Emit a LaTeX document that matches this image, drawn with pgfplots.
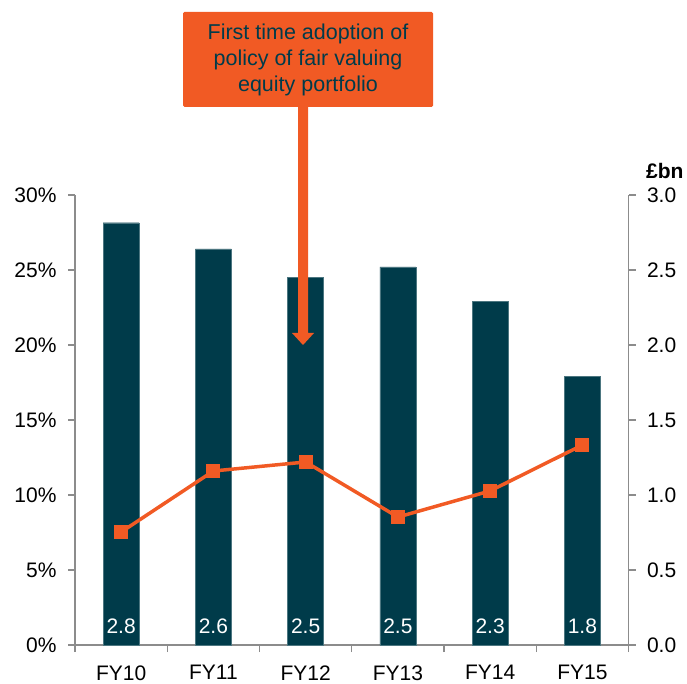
\documentclass[border=0pt]{standalone}
\usepackage{fontspec}
\setmainfont{Liberation Sans}
\usepackage{pgfplots}
\usepackage{pgfplotstable}
\pgfplotsset{compat=1.18}
\definecolor{barteal}{HTML}{003B4A}
\definecolor{orng}{HTML}{F15A24}
\definecolor{axgray}{HTML}{8C8C8C}
\pgfplotstableread{
x bn label pct
0 2.815 2.8 7.53
1 2.64  2.6 11.6
2 2.45  2.5 12.2
3 2.52  2.5 8.53
4 2.29  2.3 10.27
5 1.79  1.8 13.33
}\datatable
\begin{document}
\begin{tikzpicture}[x=1pt,y=1pt]
\path (0,0) rectangle (687,682);
\pgfplotsset{
  common/.style={
    at={(75pt,37pt)}, anchor=south west, scale only axis,
    width=553.5pt, height=450pt, xmin=-0.5, xmax=5.5,
    axis line style={axgray, line width=1.3pt, -},
    tick style={axgray, line width=1.3pt},
    major tick length=7pt, tick align=outside,
    ticklabel style={font=\fontsize{21}{24}\selectfont},
    /pgf/number format/assume math mode=true,
  }
}
\begin{axis}[common,
  ymin=0, ymax=3,
  axis y line*=right, axis x line*=bottom,
  ytick={0,0.5,1,1.5,2,2.5,3},
  yticklabel={\pgfmathprintnumber[fixed,fixed zerofill,precision=1]{\tick}},
  yticklabel style={xshift=8pt},
  xtick={-0.5,0.5,1.5,2.5,3.5,4.5,5.5},
  xticklabels={},
  x tick style={axgray, line width=1.3pt},
  extra x ticks={0,1,2,3,4,5},
  extra x tick labels={FY10,FY11,FY12,FY13,FY14,FY15},
  extra x tick style={major tick length=0pt, xticklabel style={yshift=-17pt}},
]
\addplot[ybar, bar width=0.39, fill=barteal, draw=barteal!70!white, line width=0.4pt] table[x=x, y=bn] {\datatable};
\addplot[only marks, mark=none, nodes near coords, point meta=explicit symbolic,
  nodes near coords style={anchor=base, yshift=12pt, text=white, font=\fontsize{21}{24}\selectfont}]
  table[x=x, y expr=0, meta=label] {\datatable};
\end{axis}
\begin{axis}[common,
  ymin=0, ymax=30,
  axis y line*=left, axis x line=none,
  ytick={0,5,10,15,20,25,30},
  yticklabel={\pgfmathprintnumber{\tick}\%},
  yticklabel style={xshift=-8pt},
]
\addplot[orng, line width=3.5pt, mark=square*, mark size=6.5pt, mark options={fill=orng, draw=orng, line width=0pt}] table[x=x, y=pct] {\datatable};
\end{axis}
\node[font=\bfseries\fontsize{21}{24}\selectfont, anchor=west, inner sep=0pt] at (646,511) {£bn};
% annotation
\fill[orng, rounded corners=1.5pt] (183,575) rectangle (433,670);
\node[text=barteal, align=center, font=\fontsize{21.5}{26}\selectfont] at (308,622) {First time adoption of\\policy of fair valuing\\equity portfolio};
\fill[orng] (298,575) -- (308,575) -- (308,349) -- (314,349) -- (303,337) -- (292,349) -- (298,349) -- cycle;
\end{tikzpicture}
\end{document}
